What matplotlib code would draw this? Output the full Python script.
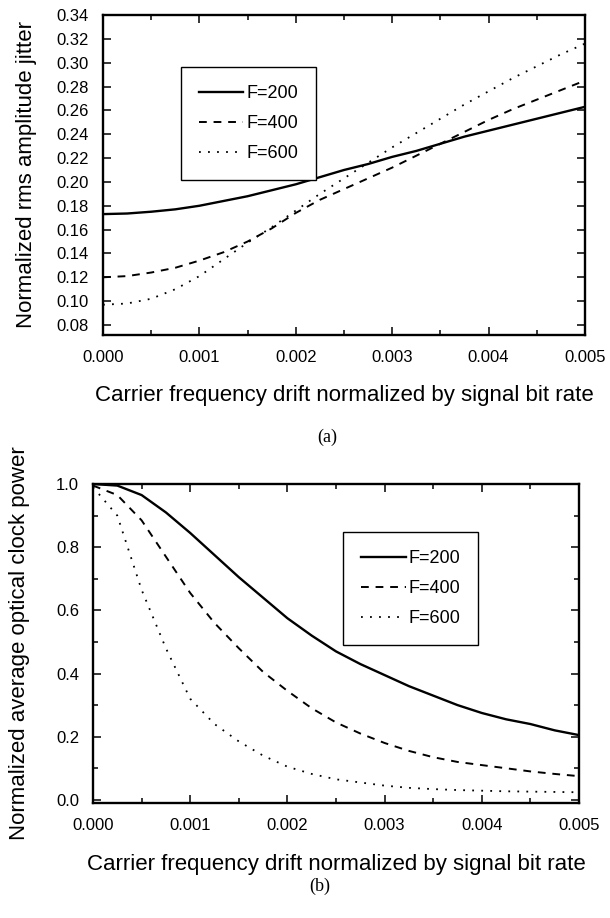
import matplotlib
matplotlib.use("Agg")
import matplotlib.pyplot as plt
from matplotlib.ticker import MultipleLocator, FormatStrFormatter

plt.rcParams['font.family'] = ['Liberation Sans', 'DejaVu Sans']

# ---- data ----
drift = [0.0, 0.00025, 0.0005, 0.00075, 0.001, 0.00125, 0.0015, 0.00175, 0.002,
         0.00225, 0.0025, 0.00275, 0.003, 0.00325, 0.0035, 0.00375, 0.004,
         0.00425, 0.0045, 0.00475, 0.005]

jitter_F200 = [0.173, 0.1735, 0.175, 0.177, 0.180, 0.184, 0.188, 0.193, 0.198,
               0.204, 0.210, 0.215, 0.221, 0.226, 0.232, 0.238, 0.243, 0.248,
               0.253, 0.258, 0.263]
jitter_F400 = [0.120, 0.121, 0.124, 0.128, 0.134, 0.141, 0.150, 0.161, 0.174,
               0.185, 0.194, 0.203, 0.212, 0.222, 0.232, 0.242, 0.252, 0.261,
               0.269, 0.277, 0.285]
jitter_F600 = [0.097, 0.098, 0.102, 0.110, 0.121, 0.135, 0.149, 0.162, 0.176,
               0.190, 0.203, 0.216, 0.229, 0.241, 0.253, 0.265, 0.276, 0.287,
               0.297, 0.307, 0.316]

power_F200 = [1.0, 0.995, 0.965, 0.91, 0.845, 0.775, 0.705, 0.64, 0.575, 0.52,
              0.47, 0.43, 0.395, 0.36, 0.33, 0.30, 0.275, 0.255, 0.24, 0.22, 0.205]
power_F400 = [0.995, 0.965, 0.885, 0.77, 0.655, 0.56, 0.48, 0.405, 0.345, 0.29,
              0.245, 0.21, 0.18, 0.155, 0.135, 0.12, 0.11, 0.10, 0.09, 0.082, 0.075]
power_F600 = [0.99, 0.90, 0.665, 0.48, 0.32, 0.24, 0.185, 0.14, 0.105, 0.082,
              0.065, 0.055, 0.045, 0.038, 0.034, 0.031, 0.029, 0.027, 0.026,
              0.025, 0.024]

labels = ["F=200", "F=400", "F=600"]
xlabel = "Carrier frequency drift normalized by signal bit rate"
ylabel_a = "Normalized rms amplitude jitter"
ylabel_b = "Normalized average optical clock power"

W, H = 610, 918
fig = plt.figure(figsize=(W / 100, H / 100), dpi=100)


def px_axes(left, right, top, bottom):
    return fig.add_axes([left / W, 1 - bottom / H, (right - left) / W, (bottom - top) / H])


styles = [dict(ls='-', lw=1.7),
          dict(ls=(0, (4, 3.5)), lw=1.4),
          dict(ls=(0, (1, 4)), lw=1.3)]


def style_axes(ax):
    for s in ax.spines.values():
        s.set_linewidth(1.7)
    ax.tick_params(which='both', direction='in', top=True, right=True,
                   labelsize=12, width=1.1)
    ax.tick_params(axis='x', which='both', pad=11)
    ax.tick_params(axis='y', which='both', pad=10)
    ax.tick_params(which='major', length=6)
    ax.tick_params(which='minor', length=3.5)


def add_legend(ax, anchor):
    leg = ax.legend(loc='upper left', bbox_to_anchor=anchor, borderaxespad=0,
                    fontsize=13, handlelength=2.45, frameon=True, fancybox=False,
                    edgecolor='black', borderpad=1.0, labelspacing=0.72,
                    handletextpad=0.15, framealpha=1)
    leg.get_frame().set_linewidth(1.0)
    return leg


# ---- (a) ----
ax1 = px_axes(103, 585, 15, 335)
for ys, lab, st in zip([jitter_F200, jitter_F400, jitter_F600], labels, styles):
    ax1.plot(drift, ys, color='black', label=lab, **st)
ax1.set_xlim(0, 0.005)
ax1.set_ylim(0.0716, 0.34)
ax1.xaxis.set_major_locator(MultipleLocator(0.001))
ax1.xaxis.set_minor_locator(MultipleLocator(0.0005))
ax1.yaxis.set_major_locator(MultipleLocator(0.02))
ax1.xaxis.set_major_formatter(FormatStrFormatter('%.3f'))
ax1.yaxis.set_major_formatter(FormatStrFormatter('%.2f'))
style_axes(ax1)
ax1.set_xlabel(xlabel, fontsize=16)
ax1.set_ylabel(ylabel_a, fontsize=16)
ax1.xaxis.set_label_coords(0.5, -0.155)
ax1.yaxis.set_label_coords(-0.137, 0.5)
add_legend(ax1, (0.162, 0.8375))

# ---- (b) ----
ax2 = px_axes(93, 579, 484, 803)
for ys, lab, st in zip([power_F200, power_F400, power_F600], labels, styles):
    ax2.plot(drift, ys, color='black', label=lab, **st)
ax2.set_xlim(0, 0.005)
ax2.set_ylim(-0.01, 1.0)
ax2.xaxis.set_major_locator(MultipleLocator(0.001))
ax2.xaxis.set_minor_locator(MultipleLocator(0.0005))
ax2.yaxis.set_major_locator(MultipleLocator(0.2))
ax2.yaxis.set_minor_locator(MultipleLocator(0.1))
ax2.xaxis.set_major_formatter(FormatStrFormatter('%.3f'))
ax2.yaxis.set_major_formatter(FormatStrFormatter('%.1f'))
style_axes(ax2)
ax2.set_xlabel(xlabel, fontsize=16)
ax2.set_ylabel(ylabel_b, fontsize=16)
ax2.xaxis.set_label_coords(0.5, -0.16)
ax2.yaxis.set_label_coords(-0.13, 0.5)
add_legend(ax2, (0.515, 0.85))

fig.text(327 / W, 1 - 437 / H, "(a)", family=['Liberation Serif'], fontsize=13,
         ha='center', va='center')
fig.text(320 / W, 1 - 886 / H, "(b)", family=['Liberation Serif'], fontsize=13,
         ha='center', va='center')

fig.savefig("out.png", dpi=100)
